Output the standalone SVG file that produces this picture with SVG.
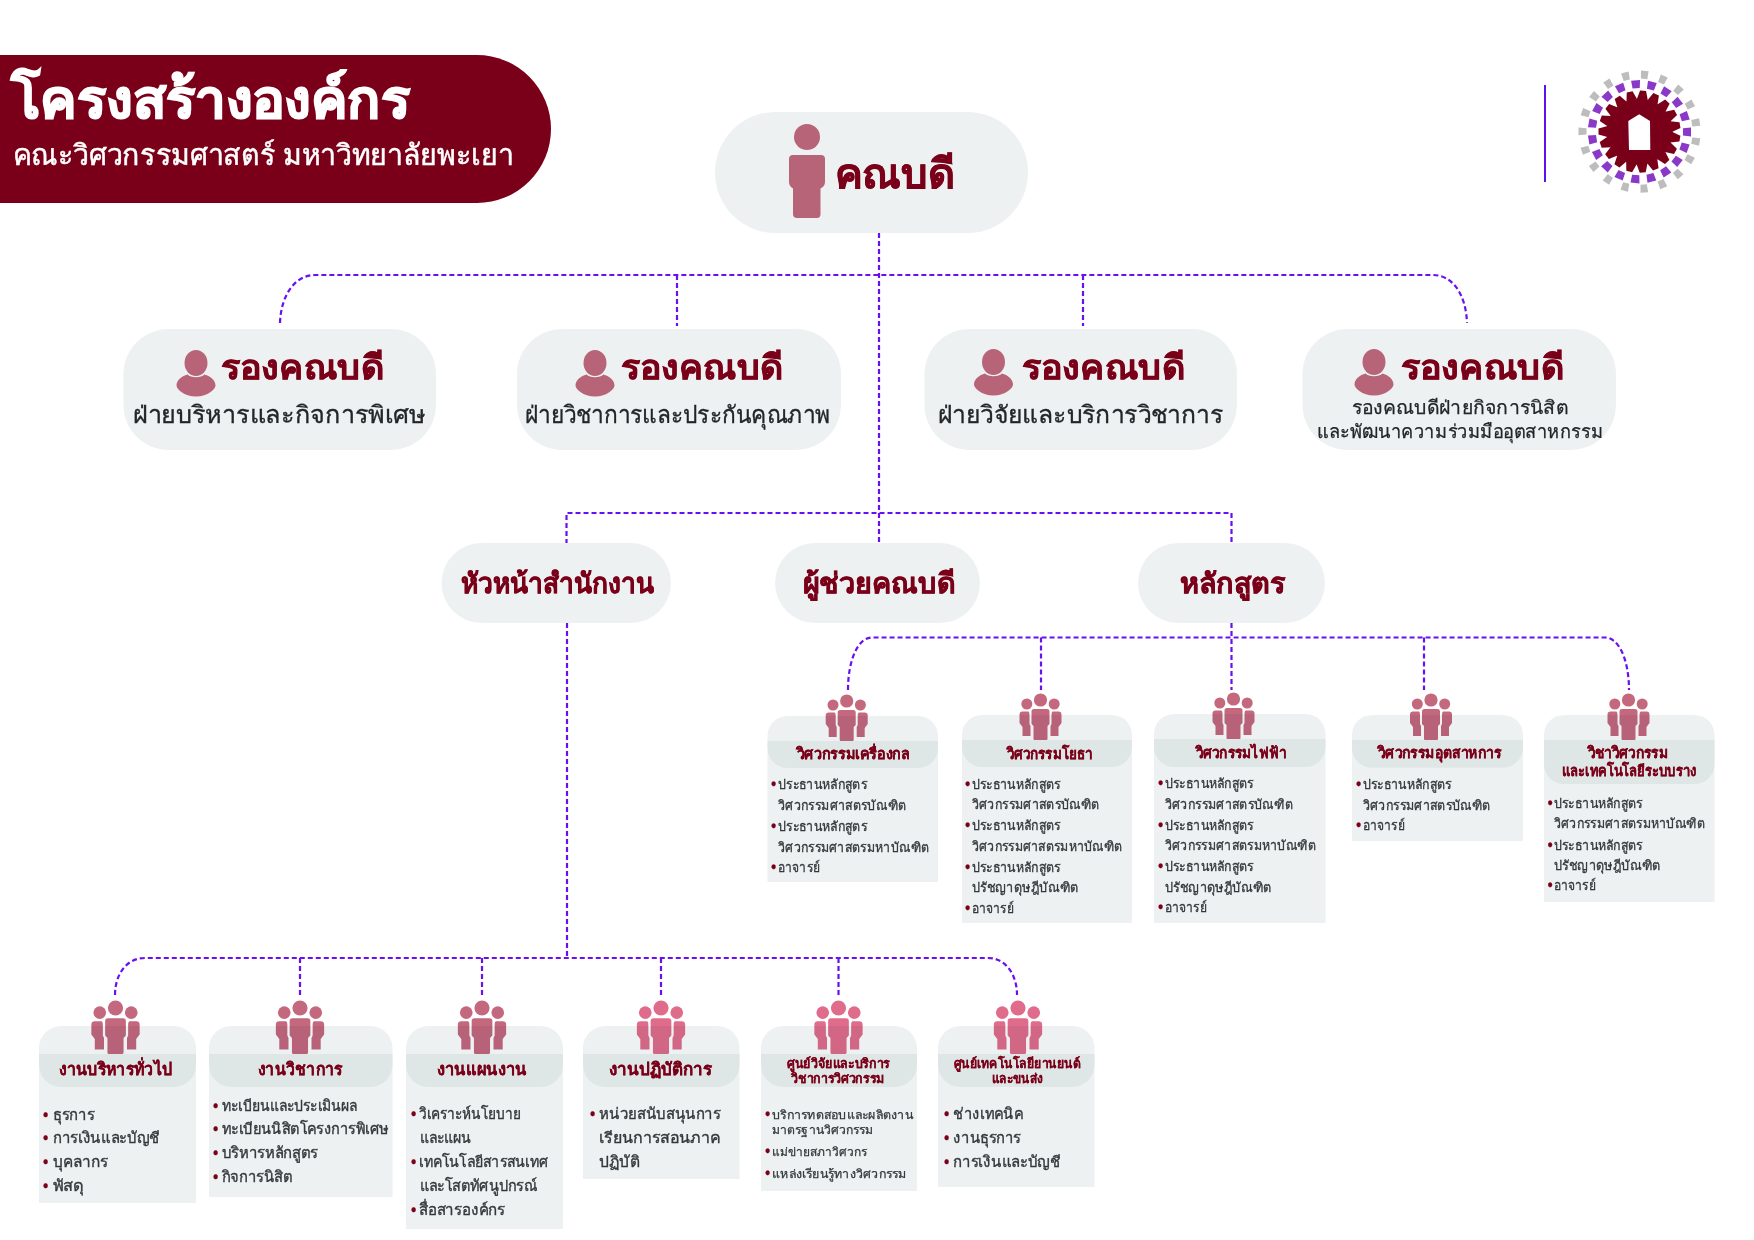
<svg xmlns="http://www.w3.org/2000/svg" width="1754" height="1240" viewBox="0 0 1754 1240">
<style>
text{font-family:"Noto Sans","Open Sans",sans-serif}
.pill{fill:#eef1f2}
.band{fill:#dfe6e6}
.card{fill:#eef1f2}
.con{fill:none;stroke:#6a10f0;stroke-width:2.200;stroke-dasharray:5 3}
.h1{fill:#7a0019;stroke:#7a0019;stroke-width:.6px;font-weight:700;font-size:34px}
.h2{fill:#7a0019;stroke:#7a0019;stroke-width:.5px;font-weight:700;font-size:28px}
.sub{fill:#222629;stroke:#222629;stroke-width:.3px;font-weight:400;font-size:24px}
.sub2{fill:#222629;stroke:#222629;stroke-width:.25px;font-weight:400;font-size:19px}
.t{fill:#7a0019;stroke:#7a0019;stroke-width:.2px;font-weight:600;font-size:15px}
.t2{fill:#7a0019;stroke:#7a0019;stroke-width:.15px;font-weight:600;font-size:13px}
.i{fill:#33383b;stroke:#33383b;stroke-width:.3px;font-weight:500;font-size:13.5px}
.j{fill:#33383b;stroke:#33383b;stroke-width:.35px;font-weight:500;font-size:15.5px}
.k{fill:#33383b;stroke:#33383b;stroke-width:.25px;font-weight:500;font-size:12px}
.b{fill:#7a0019;stroke:#7a0019;font-size:14px;font-weight:700}
.p{fill:#b86478}
.g1{fill:#c4687e;mix-blend-mode:multiply}
.g2{fill:#e06c8c;mix-blend-mode:multiply}
</style>
<defs>
<g id="team">
<circle cx="0" cy="0" r="6.600"/><circle cx="-13.700" cy="4" r="5.500"/><circle cx="13.700" cy="4" r="5.500"/>
<path d="M-6.500 9H6.500Q9 9 9 11.500V24L7 26V39Q7 40 6 40H-6Q-7 40 -7 39V26L-9 24V11.500Q-9 9 -6.500 9Z"/>
<path d="M-12 11.500H-18Q-21 11.500 -21 14.500V23L-18 27V36H-10V26L-11 24V14Q-11 12.500 -12 11.500Z"/>
<path d="M12 11.500H18Q21 11.500 21 14.500V23L18 27V36H10V26L11 24V14Q11 12.500 12 11.500Z"/>
</g>
<g id="dean" class="p">
<ellipse cx="0" cy="1" rx="11.500" ry="13"/>
<path d="M-8.500 12.500C-5 16 5 16 8.500 12.500C14 14 19.500 18 19.500 23.500C19.500 27 12 34.500 0 34.500C-12 34.500 -19.500 27 -19.500 23.500C-19.500 18 -14 14 -8.500 12.500Z"/>
</g>
<path id="lg" d="M-3.800 -61H3.800L3.200 -53H-3.200Z" fill="#bdbdbd"/>
<path id="lp" d="M-4.500 -51.500H4.500L3.600 -43.500H-3.600Z" fill="#8a38c8"/>
<path id="lt" d="M-5.500 -32H5.500L3 -41H-3Z" fill="#7a0019"/>
</defs>
<rect width="1754" height="1240" fill="#fff"/>

<g id="title">
<path d="M0 55H477A74 74 0 0 1 477 203H0Z" fill="#7a0019"/>
<text x="11" y="118" font-size="54" font-weight="700" fill="#fff" stroke="#fff" stroke-width="1.500" textLength="399" lengthAdjust="spacingAndGlyphs">โครงสร้างองค์กร</text>
<text x="12.500" y="165" font-size="29" font-weight="500" fill="#fff" stroke="#fff" stroke-width=".5" textLength="501" lengthAdjust="spacingAndGlyphs">คณะวิศวกรรมศาสตร์ มหาวิทยาลัยพะเยา</text>
</g>

<g id="logo">
<rect x="1544" y="85" width="2" height="97" fill="#5f10f0"/>
<g transform="translate(1639.500 131.700)">
<circle r="33" fill="#7a0019"/>
<use href="#lt" transform="rotate(5)"/><use href="#lt" transform="rotate(23.950)"/><use href="#lt" transform="rotate(42.900)"/><use href="#lt" transform="rotate(61.800)"/><use href="#lt" transform="rotate(80.800)"/><use href="#lt" transform="rotate(99.700)"/><use href="#lt" transform="rotate(118.700)"/><use href="#lt" transform="rotate(137.600)"/><use href="#lt" transform="rotate(156.600)"/><use href="#lt" transform="rotate(175.500)"/><use href="#lt" transform="rotate(194.500)"/><use href="#lt" transform="rotate(213.400)"/><use href="#lt" transform="rotate(232.400)"/><use href="#lt" transform="rotate(251.300)"/><use href="#lt" transform="rotate(270.300)"/><use href="#lt" transform="rotate(289.200)"/><use href="#lt" transform="rotate(308.200)"/><use href="#lt" transform="rotate(327.100)"/><use href="#lt" transform="rotate(346.100)"/>
<use href="#lg" transform="rotate(5)"/><use href="#lg" transform="rotate(23.950)"/><use href="#lg" transform="rotate(42.900)"/><use href="#lg" transform="rotate(61.800)"/><use href="#lg" transform="rotate(80.800)"/><use href="#lg" transform="rotate(99.700)"/><use href="#lg" transform="rotate(118.700)"/><use href="#lg" transform="rotate(137.600)"/><use href="#lg" transform="rotate(156.600)"/><use href="#lg" transform="rotate(175.500)"/><use href="#lg" transform="rotate(194.500)"/><use href="#lg" transform="rotate(213.400)"/><use href="#lg" transform="rotate(232.400)"/><use href="#lg" transform="rotate(251.300)"/><use href="#lg" transform="rotate(270.300)"/><use href="#lg" transform="rotate(289.200)"/><use href="#lg" transform="rotate(308.200)"/><use href="#lg" transform="rotate(327.100)"/><use href="#lg" transform="rotate(346.100)"/>
<use href="#lp" transform="rotate(14.500)"/><use href="#lp" transform="rotate(33.400)"/><use href="#lp" transform="rotate(52.400)"/><use href="#lp" transform="rotate(71.300)"/><use href="#lp" transform="rotate(90.300)"/><use href="#lp" transform="rotate(109.200)"/><use href="#lp" transform="rotate(128.200)"/><use href="#lp" transform="rotate(147.100)"/><use href="#lp" transform="rotate(166.100)"/><use href="#lp" transform="rotate(185)"/><use href="#lp" transform="rotate(204)"/><use href="#lp" transform="rotate(222.900)"/><use href="#lp" transform="rotate(241.900)"/><use href="#lp" transform="rotate(260.800)"/><use href="#lp" transform="rotate(279.800)"/><use href="#lp" transform="rotate(298.700)"/><use href="#lp" transform="rotate(317.700)"/><use href="#lp" transform="rotate(336.600)"/><use href="#lp" transform="rotate(355.600)"/>
<path d="M-11.200 -10.700L-0.300 -17.400L10.500 -10.700L10.800 18.300H-10.500Z" fill="#fff"/>
</g>
</g>

<g id="connectors">
<path class="con" d="M879 233V544"/>
<path class="con" d="M280 323C281 295 295 275 315 275H1433C1453 275 1466 295 1467 323"/>
<path class="con" d="M677 275V326M1083 275V326"/>
<path class="con" d="M566.500 544V513H1231.500V544"/>
<path class="con" d="M567 623V958"/>
<path class="con" d="M1231.500 623V690"/>
<path class="con" d="M848 690C848 660 858 637.500 872 637.500H1605C1619 637.500 1629 660 1629 690"/>
<path class="con" d="M1041 637.500V690M1424 637.500V690"/>
<path class="con" d="M115 995C115 975 126 958 145 958H988C1006 958 1017 975 1017 995"/>
<path class="con" d="M300 958V995M482 958V995M661 958V995M838.500 958V995"/>
</g>

<g id="n-dean">
<rect class="pill" x="715" y="112" width="313" height="121" rx="60.500"/>
<g class="p"><circle cx="807" cy="137" r="13"/><path d="M793 155H821Q825 155 825 159V182Q825 186 820.500 188.500V214Q820.500 218 817 218H797Q793 218 793 214V188.500Q789 186 789 182V159Q789 155 793 155Z"/></g>
<text class="h1" x="835" y="188" style="font-size:41px" textLength="120" lengthAdjust="spacingAndGlyphs">คณบดี</text>
</g>

<g id="n-vp1">
<rect class="pill" x="123.500" y="329" width="312.500" height="121" rx="45"/>
<use href="#dean" x="196" y="362"/>
<text class="h1" x="221" y="379" textLength="163" lengthAdjust="spacingAndGlyphs">รองคณบดี</text>
<text class="sub" x="133" y="423" textLength="293" lengthAdjust="spacingAndGlyphs">ฝ่ายบริหารและกิจการพิเศษ</text>
</g>
<g id="n-vp2">
<rect class="pill" x="517" y="329" width="324" height="121" rx="45"/>
<use href="#dean" x="595" y="362"/>
<text class="h1" x="621" y="379" textLength="162" lengthAdjust="spacingAndGlyphs">รองคณบดี</text>
<text class="sub" x="525" y="423" textLength="305" lengthAdjust="spacingAndGlyphs">ฝ่ายวิชาการและประกันคุณภาพ</text>
</g>
<g id="n-vp3">
<rect class="pill" x="924.500" y="329" width="312.500" height="121" rx="45"/>
<use href="#dean" x="993.500" y="361"/>
<text class="h1" x="1022" y="379" textLength="163" lengthAdjust="spacingAndGlyphs">รองคณบดี</text>
<text class="sub" x="938" y="423" textLength="285" lengthAdjust="spacingAndGlyphs">ฝ่ายวิจัยและบริการวิชาการ</text>
</g>
<g id="n-vp4">
<rect class="pill" x="1302.500" y="329" width="313.500" height="121" rx="45"/>
<use href="#dean" x="1374" y="361"/>
<text class="h1" x="1401" y="379" textLength="163" lengthAdjust="spacingAndGlyphs">รองคณบดี</text>
<text class="sub2" x="1352" y="414" textLength="216" lengthAdjust="spacingAndGlyphs">รองคณบดีฝ่ายกิจการนิสิต</text>
<text class="sub2" x="1317" y="438" textLength="286" lengthAdjust="spacingAndGlyphs">และพัฒนาความร่วมมืออุตสาหกรรม</text>
</g>

<g id="n-office">
<rect class="pill" x="441.500" y="543" width="229.500" height="80" rx="40"/>
<text class="h2" x="461" y="593" textLength="193" lengthAdjust="spacingAndGlyphs">หัวหน้าสำนักงาน</text>
</g>
<g id="n-asst">
<rect class="pill" x="775" y="543" width="205" height="80" rx="40"/>
<text class="h2" x="803" y="593" textLength="152" lengthAdjust="spacingAndGlyphs">ผู้ช่วยคณบดี</text>
</g>
<g id="n-curr">
<rect class="pill" x="1138" y="543" width="187" height="80" rx="40"/>
<text class="h2" x="1180" y="593" textLength="105" lengthAdjust="spacingAndGlyphs">หลักสูตร</text>
</g>

<g id="c-me">
<path class="card" d="M767.500 882V736A20 20 0 0 1 787.500 716H918A20 20 0 0 1 938 736V882Z"/>
<path class="band" d="M767.500 741H938V748A20 20 0 0 1 918 768H787.500A20 20 0 0 1 767.500 748Z"/>
<use class="g1" href="#team" x="846.700" y="701"/>
<text class="t" x="796.700" y="759" textLength="113" lengthAdjust="spacingAndGlyphs">วิศวกรรมเครื่องกล</text>
<text class="i"><tspan class="b" x="771" y="789.300">•</tspan><tspan x="778" textLength="89" lengthAdjust="spacingAndGlyphs">ประธานหลักสูตร</tspan></text>
<text class="i" x="778" y="810" textLength="128" lengthAdjust="spacingAndGlyphs">วิศวกรรมศาสตรบัณฑิต</text>
<text class="i"><tspan class="b" x="771" y="830.700">•</tspan><tspan x="778" textLength="89" lengthAdjust="spacingAndGlyphs">ประธานหลักสูตร</tspan></text>
<text class="i" x="778" y="851.700" textLength="151" lengthAdjust="spacingAndGlyphs">วิศวกรรมศาสตรมหาบัณฑิต</text>
<text class="i"><tspan class="b" x="771" y="871.700">•</tspan><tspan x="778" textLength="42" lengthAdjust="spacingAndGlyphs">อาจารย์</tspan></text>
</g>
<g id="c-ce">
<path class="card" d="M962 923V735A20 20 0 0 1 982 715H1112A20 20 0 0 1 1132 735V923Z"/>
<path class="band" d="M962 740H1132V747A20 20 0 0 1 1112 767H982A20 20 0 0 1 962 747Z"/>
<use class="g1" href="#team" x="1040.500" y="700"/>
<text class="t" x="1006.700" y="758.700" textLength="85.500" lengthAdjust="spacingAndGlyphs">วิศวกรรมโยธา</text>
<text class="i"><tspan class="b" x="965" y="788.700">•</tspan><tspan x="971.700" textLength="89" lengthAdjust="spacingAndGlyphs">ประธานหลักสูตร</tspan></text>
<text class="i" x="971.700" y="809.300" textLength="128" lengthAdjust="spacingAndGlyphs">วิศวกรรมศาสตรบัณฑิต</text>
<text class="i"><tspan class="b" x="965" y="830">•</tspan><tspan x="971.700" textLength="89" lengthAdjust="spacingAndGlyphs">ประธานหลักสูตร</tspan></text>
<text class="i" x="971.700" y="851" textLength="151" lengthAdjust="spacingAndGlyphs">วิศวกรรมศาสตรมหาบัณฑิต</text>
<text class="i"><tspan class="b" x="965" y="871.700">•</tspan><tspan x="971.700" textLength="89" lengthAdjust="spacingAndGlyphs">ประธานหลักสูตร</tspan></text>
<text class="i" x="971.700" y="892" textLength="107" lengthAdjust="spacingAndGlyphs">ปรัชญาดุษฎีบัณฑิต</text>
<text class="i"><tspan class="b" x="965" y="912.700">•</tspan><tspan x="971.700" textLength="42" lengthAdjust="spacingAndGlyphs">อาจารย์</tspan></text>
</g>
<g id="c-ee">
<path class="card" d="M1154 923V734A20 20 0 0 1 1174 714H1305.500A20 20 0 0 1 1325.500 734V923Z"/>
<path class="band" d="M1154 739H1325.500V747A20 20 0 0 1 1305.500 767H1174A20 20 0 0 1 1154 747Z"/>
<use class="g1" href="#team" x="1233.500" y="699"/>
<text class="t" x="1195.700" y="758" textLength="90.500" lengthAdjust="spacingAndGlyphs">วิศวกรรมไฟฟ้า</text>
<text class="i"><tspan class="b" x="1158" y="788.300">•</tspan><tspan x="1164.800" textLength="89" lengthAdjust="spacingAndGlyphs">ประธานหลักสูตร</tspan></text>
<text class="i" x="1164.800" y="808.700" textLength="128" lengthAdjust="spacingAndGlyphs">วิศวกรรมศาสตรบัณฑิต</text>
<text class="i"><tspan class="b" x="1158" y="829.700">•</tspan><tspan x="1164.800" textLength="89" lengthAdjust="spacingAndGlyphs">ประธานหลักสูตร</tspan></text>
<text class="i" x="1164.800" y="850" textLength="151" lengthAdjust="spacingAndGlyphs">วิศวกรรมศาสตรมหาบัณฑิต</text>
<text class="i"><tspan class="b" x="1158" y="871">•</tspan><tspan x="1164.800" textLength="89" lengthAdjust="spacingAndGlyphs">ประธานหลักสูตร</tspan></text>
<text class="i" x="1164.800" y="891.700" textLength="107" lengthAdjust="spacingAndGlyphs">ปรัชญาดุษฎีบัณฑิต</text>
<text class="i"><tspan class="b" x="1158" y="912">•</tspan><tspan x="1164.800" textLength="42" lengthAdjust="spacingAndGlyphs">อาจารย์</tspan></text>
</g>
<g id="c-ie">
<path class="card" d="M1352 841V735A20 20 0 0 1 1372 715H1503A20 20 0 0 1 1523 735V841Z"/>
<path class="band" d="M1352 740H1523V747.700A20 20 0 0 1 1503 767.700H1372A20 20 0 0 1 1352 747.700Z"/>
<use class="g1" href="#team" x="1431" y="700"/>
<text class="t" x="1377.800" y="758.300" textLength="123.200" lengthAdjust="spacingAndGlyphs">วิศวกรรมอุตสาหการ</text>
<text class="i"><tspan class="b" x="1356" y="789">•</tspan><tspan x="1362.700" textLength="89" lengthAdjust="spacingAndGlyphs">ประธานหลักสูตร</tspan></text>
<text class="i" x="1362.700" y="809.700" textLength="128" lengthAdjust="spacingAndGlyphs">วิศวกรรมศาสตรบัณฑิต</text>
<text class="i"><tspan class="b" x="1356" y="830">•</tspan><tspan x="1362.700" textLength="42" lengthAdjust="spacingAndGlyphs">อาจารย์</tspan></text>
</g>
<g id="c-rail">
<path class="card" d="M1544 902V735A20 20 0 0 1 1564 715H1694.500A20 20 0 0 1 1714.500 735V902Z"/>
<path class="band" d="M1544 740H1714.500V764A20 20 0 0 1 1694.500 784H1564A20 20 0 0 1 1544 764Z"/>
<use class="g1" href="#team" x="1628.500" y="700"/>
<text class="t" x="1587.700" y="758" textLength="80.300" lengthAdjust="spacingAndGlyphs">วิชาวิศวกรรม</text>
<text class="t" x="1561.800" y="775.700" textLength="134.200" lengthAdjust="spacingAndGlyphs">และเทคโนโลยีระบบราง</text>
<text class="i"><tspan class="b" x="1547.500" y="808.300">•</tspan><tspan x="1553.800" textLength="89" lengthAdjust="spacingAndGlyphs">ประธานหลักสูตร</tspan></text>
<text class="i" x="1553.800" y="828.300" textLength="151" lengthAdjust="spacingAndGlyphs">วิศวกรรมศาสตรมหาบัณฑิต</text>
<text class="i"><tspan class="b" x="1547.500" y="850">•</tspan><tspan x="1553.800" textLength="89" lengthAdjust="spacingAndGlyphs">ประธานหลักสูตร</tspan></text>
<text class="i" x="1553.800" y="870" textLength="107" lengthAdjust="spacingAndGlyphs">ปรัชญาดุษฎีบัณฑิต</text>
<text class="i"><tspan class="b" x="1547.500" y="890.300">•</tspan><tspan x="1553.800" textLength="42" lengthAdjust="spacingAndGlyphs">อาจารย์</tspan></text>
</g>

<g id="d-admin">
<path class="card" d="M39 1203V1048A22 22 0 0 1 61 1026H174A22 22 0 0 1 196 1048V1203Z"/>
<path class="band" d="M39 1054H196V1065A22 22 0 0 1 174 1087H61A22 22 0 0 1 39 1065Z"/>
<use class="g1" href="#team" transform="translate(115.500 1008) scale(1.150)"/>
<text class="t" x="59.300" y="1075" style="font-size:17px" textLength="113.200" lengthAdjust="spacingAndGlyphs">งานบริหารทั่วไป</text>
<text class="j"><tspan class="b" x="43" y="1120">•</tspan><tspan x="52.900" textLength="41.400" lengthAdjust="spacingAndGlyphs">ธุรการ</tspan></text>
<text class="j"><tspan class="b" x="43" y="1143.300">•</tspan><tspan x="52.900" textLength="107" lengthAdjust="spacingAndGlyphs">การเงินและบัญชี</tspan></text>
<text class="j"><tspan class="b" x="43" y="1167.300">•</tspan><tspan x="52.900" textLength="54.600" lengthAdjust="spacingAndGlyphs">บุคลากร</tspan></text>
<text class="j"><tspan class="b" x="43" y="1191.300">•</tspan><tspan x="52.900" textLength="30.700" lengthAdjust="spacingAndGlyphs">พัสดุ</tspan></text>
</g>
<g id="d-acad">
<path class="card" d="M209 1197V1048A22 22 0 0 1 231 1026H370.500A22 22 0 0 1 392.500 1048V1197Z"/>
<path class="band" d="M209 1054H392.500V1065A22 22 0 0 1 370.500 1087H231A22 22 0 0 1 209 1065Z"/>
<use class="g1" href="#team" transform="translate(300 1008) scale(1.150)"/>
<text class="t" x="258" y="1075" style="font-size:17px" textLength="84.500" lengthAdjust="spacingAndGlyphs">งานวิชาการ</text>
<text class="j"><tspan class="b" x="213" y="1110.700">•</tspan><tspan x="221.800" textLength="135.700" lengthAdjust="spacingAndGlyphs">ทะเบียนและประเมินผล</tspan></text>
<text class="j"><tspan class="b" x="213" y="1134.300">•</tspan><tspan x="221.800" textLength="166.800" lengthAdjust="spacingAndGlyphs">ทะเบียนนิสิตโครงการพิเศษ</tspan></text>
<text class="j"><tspan class="b" x="213" y="1158.300">•</tspan><tspan x="221.800" textLength="96.400" lengthAdjust="spacingAndGlyphs">บริหารหลักสูตร</tspan></text>
<text class="j"><tspan class="b" x="213" y="1182.300">•</tspan><tspan x="221.800" textLength="70.700" lengthAdjust="spacingAndGlyphs">กิจการนิสิต</tspan></text>
</g>
<g id="d-plan">
<path class="card" d="M406 1229V1048A22 22 0 0 1 428 1026H541A22 22 0 0 1 563 1048V1229Z"/>
<path class="band" d="M406 1054H563V1065A22 22 0 0 1 541 1087H428A22 22 0 0 1 406 1065Z"/>
<use class="g1" href="#team" transform="translate(482 1008) scale(1.150)"/>
<text class="t" x="437" y="1075" style="font-size:17px" textLength="90" lengthAdjust="spacingAndGlyphs">งานแผนงาน</text>
<text class="j"><tspan class="b" x="411" y="1119.300">•</tspan><tspan x="419" textLength="101.800" lengthAdjust="spacingAndGlyphs">วิเคราะห์นโยบาย</tspan></text>
<text class="j" x="419.500" y="1143.300" textLength="52" lengthAdjust="spacingAndGlyphs">และแผน</text>
<text class="j"><tspan class="b" x="411" y="1167.300">•</tspan><tspan x="419" textLength="129" lengthAdjust="spacingAndGlyphs">เทคโนโลยีสารสนเทศ</tspan></text>
<text class="j" x="419.500" y="1191.300" textLength="117.500" lengthAdjust="spacingAndGlyphs">และโสตทัศนูปกรณ์</text>
<text class="j"><tspan class="b" x="411" y="1215">•</tspan><tspan x="419" textLength="86" lengthAdjust="spacingAndGlyphs">สื่อสารองค์กร</tspan></text>
</g>
<g id="d-ops">
<path class="card" d="M583 1179V1048A22 22 0 0 1 605 1026H717.500A22 22 0 0 1 739.500 1048V1179Z"/>
<path class="band" d="M583 1054H739.500V1065A22 22 0 0 1 717.500 1087H605A22 22 0 0 1 583 1065Z"/>
<use class="g2" href="#team" transform="translate(661 1008) scale(1.150)"/>
<text class="t" x="609" y="1075" style="font-size:17px" textLength="103" lengthAdjust="spacingAndGlyphs">งานปฏิบัติการ</text>
<text class="j"><tspan class="b" x="590" y="1119.300">•</tspan><tspan x="599.300" textLength="121.600" lengthAdjust="spacingAndGlyphs">หน่วยสนับสนุนการ</tspan></text>
<text class="j" x="599.300" y="1143.300" textLength="120.900" lengthAdjust="spacingAndGlyphs">เรียนการสอนภาค</text>
<text class="j" x="599.300" y="1167.300" textLength="40.300" lengthAdjust="spacingAndGlyphs">ปฏิบัติ</text>
</g>
<g id="d-rsc">
<path class="card" d="M761 1191V1048A22 22 0 0 1 783 1026H895A22 22 0 0 1 917 1048V1191Z"/>
<path class="band" d="M761 1054H917V1065A22 22 0 0 1 895 1087H783A22 22 0 0 1 761 1065Z"/>
<use class="g2" href="#team" transform="translate(838.500 1008) scale(1.150)"/>
<text class="t2" x="787" y="1067.700" textLength="103" lengthAdjust="spacingAndGlyphs">ศูนย์วิจัยและบริการ</text>
<text class="t2" x="791.400" y="1083.300" textLength="93.600" lengthAdjust="spacingAndGlyphs">วิชาการวิศวกรรม</text>
<text class="k"><tspan class="b" x="765" y="1119.300">•</tspan><tspan x="772" textLength="141" lengthAdjust="spacingAndGlyphs">บริการทดสอบและผลิตงาน</tspan></text>
<text class="k" x="772" y="1134" textLength="101.600" lengthAdjust="spacingAndGlyphs">มาตรฐานวิศวกรรม</text>
<text class="k"><tspan class="b" x="765" y="1156">•</tspan><tspan x="772" textLength="94.700" lengthAdjust="spacingAndGlyphs">แม่ข่ายสภาวิศวกร</tspan></text>
<text class="k"><tspan class="b" x="765" y="1178.300">•</tspan><tspan x="772" textLength="134.600" lengthAdjust="spacingAndGlyphs">แหล่งเรียนรู้ทางวิศวกรรม</tspan></text>
</g>
<g id="d-auto">
<path class="card" d="M938 1187V1048A22 22 0 0 1 960 1026H1072.500A22 22 0 0 1 1094.500 1048V1187Z"/>
<path class="band" d="M938 1054H1094.500V1065A22 22 0 0 1 1072.500 1087H960A22 22 0 0 1 938 1065Z"/>
<use class="g2" href="#team" transform="translate(1018 1008) scale(1.150)"/>
<text class="t2" x="954" y="1067.700" textLength="126" lengthAdjust="spacingAndGlyphs">ศูนย์เทคโนโลยียานยนต์</text>
<text class="t2" x="992" y="1083" textLength="50.400" lengthAdjust="spacingAndGlyphs">และขนส่ง</text>
<text class="j"><tspan class="b" x="944" y="1119.300">•</tspan><tspan x="953.300" textLength="70" lengthAdjust="spacingAndGlyphs">ช่างเทคนิค</tspan></text>
<text class="j"><tspan class="b" x="944" y="1143.300">•</tspan><tspan x="953.300" textLength="67.800" lengthAdjust="spacingAndGlyphs">งานธุรการ</tspan></text>
<text class="j"><tspan class="b" x="944" y="1167">•</tspan><tspan x="953.300" textLength="107.400" lengthAdjust="spacingAndGlyphs">การเงินและบัญชี</tspan></text>
</g>
</svg>
